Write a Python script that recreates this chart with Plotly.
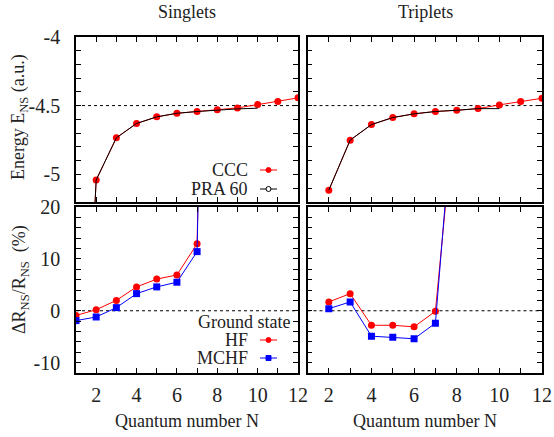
import plotly.graph_objects as go

# ---------------- data ----------------
N_sing_ccc = [1, 2, 3, 4, 5, 6, 7, 8, 9, 10, 11, 12]
E_sing_ccc = [-8.0, -5.04, -4.734, -4.630, -4.582, -4.556, -4.543, -4.531, -4.517, -4.493, -4.471, -4.444]
N_sing_pra = [1, 2, 3, 4, 5, 6, 7, 8, 9, 10]
E_sing_pra = [-8.0, -5.04, -4.734, -4.630, -4.582, -4.556, -4.543, -4.531, -4.524, -4.519]

N_trip_ccc = [2, 3, 4, 5, 6, 7, 8, 9, 10, 11, 12]
E_trip_ccc = [-5.114, -4.751, -4.638, -4.587, -4.560, -4.543, -4.534, -4.522, -4.495, -4.471, -4.447]
N_trip_pra = [2, 3, 4, 5, 6, 7, 8, 9, 10]
E_trip_pra = [-5.114, -4.751, -4.638, -4.587, -4.560, -4.543, -4.534, -4.522, -4.522]

N_sing_dr = [1, 2, 3, 4, 5, 6, 7, 8]
HF_sing = [-0.9, 0.2, 2.0, 4.6, 6.1, 6.9, 12.9, 210]
MCHF_sing = [-1.9, -1.2, 0.6, 3.3, 4.6, 5.5, 11.4, 200]

N_trip_dr = [2, 3, 4, 5, 6, 7, 8]
HF_trip = [1.7, 3.3, -2.8, -2.8, -3.1, -0.1, 43]
MCHF_trip = [0.4, 1.7, -4.9, -5.1, -5.4, -2.4, 48]

E_threshold = -4.5
DR_zero = 0.0

E_ticks = [-5, -4.5, -4]
E_ticktext = ["-5", "-4.5", "-4"]
DR_ticks = [-10, 0, 10, 20]
DR_ticktext = ["-10", "0", "10", "20"]

W, H = 554, 437
RED = "#ff0000"
BLUE = "#0000ff"
FONT = "Liberation Serif"
TXT = "#222222"

def px(x):
    return x / W

def py(y):
    return 1 - y / H

fig = go.Figure()

# top-left singlets energies
fig.add_trace(go.Scatter(x=N_sing_ccc, y=E_sing_ccc, mode="lines+markers",
                         line=dict(color=RED, width=1), marker=dict(color=RED, size=7, symbol="circle"),
                         xaxis="x", yaxis="y", showlegend=False))
fig.add_trace(go.Scatter(x=N_sing_pra, y=E_sing_pra, mode="lines+markers",
                         line=dict(color="black", width=1),
                         marker=dict(color="rgba(0,0,0,0)", size=7, symbol="circle-open", line=dict(color="black", width=1)),
                         xaxis="x", yaxis="y", showlegend=False))
# top-right triplets energies
fig.add_trace(go.Scatter(x=N_trip_ccc, y=E_trip_ccc, mode="lines+markers",
                         line=dict(color=RED, width=1), marker=dict(color=RED, size=7, symbol="circle"),
                         xaxis="x2", yaxis="y2", showlegend=False))
fig.add_trace(go.Scatter(x=N_trip_pra, y=E_trip_pra, mode="lines+markers",
                         line=dict(color="black", width=1),
                         marker=dict(color="rgba(0,0,0,0)", size=7, symbol="circle-open", line=dict(color="black", width=1)),
                         xaxis="x2", yaxis="y2", showlegend=False))
# bottom-left singlets dR
fig.add_trace(go.Scatter(x=N_sing_dr, y=HF_sing, mode="lines+markers",
                         line=dict(color=RED, width=1), marker=dict(color=RED, size=7, symbol="circle"),
                         xaxis="x3", yaxis="y3", showlegend=False, cliponaxis=True))
fig.add_trace(go.Scatter(x=N_sing_dr, y=MCHF_sing, mode="lines+markers",
                         line=dict(color=BLUE, width=1), marker=dict(color=BLUE, size=7, symbol="square"),
                         xaxis="x3", yaxis="y3", showlegend=False, cliponaxis=True))
# bottom-right triplets dR
fig.add_trace(go.Scatter(x=N_trip_dr, y=HF_trip, mode="lines+markers",
                         line=dict(color=RED, width=1), marker=dict(color=RED, size=7, symbol="circle"),
                         xaxis="x4", yaxis="y4", showlegend=False, cliponaxis=True))
fig.add_trace(go.Scatter(x=N_trip_dr, y=MCHF_trip, mode="lines+markers",
                         line=dict(color=BLUE, width=1), marker=dict(color=BLUE, size=7, symbol="square"),
                         xaxis="x4", yaxis="y4", showlegend=False, cliponaxis=True))

left_dom = [px(76), px(298)]
right_dom = [px(307.5), px(542)]
top_dom = [py(202), py(36.7)]
bot_dom = [py(373), py(207)]

tickfont = dict(family=FONT, size=20, color=TXT)

def xax(domain, anchor, labels):
    return dict(domain=domain, anchor=anchor, range=[1, 12], tick0=0, dtick=2,
                ticks="inside", ticklen=5, tickwidth=1, tickcolor="black",
                minor=dict(dtick=1, tick0=0, ticks="inside", ticklen=5, tickwidth=1, tickcolor="black", showgrid=False),
                showline=True, linewidth=1.6, linecolor="black", mirror="ticks",
                showgrid=False, zeroline=False, showticklabels=labels, tickfont=tickfont,
                ticklabelstandoff=3, automargin=False)

def yax(domain, anchor, rng, tv, tt, minor_dt, labels):
    return dict(domain=domain, anchor=anchor, range=rng, tickvals=tv, ticktext=tt,
                ticks="inside", ticklen=5, tickwidth=1, tickcolor="black",
                minor=dict(dtick=minor_dt, tick0=0, ticks="inside", ticklen=5, tickwidth=1, tickcolor="black", showgrid=False),
                showline=True, linewidth=1.6, linecolor="black", mirror="ticks",
                showgrid=False, zeroline=False, showticklabels=labels, tickfont=tickfont,
                ticklabelstandoff=10, automargin=False)

fig.update_layout(
    width=W, height=H,
    margin=dict(l=0, r=0, t=0, b=0),
    font=dict(family=FONT, size=18, color=TXT),
    paper_bgcolor="white", plot_bgcolor="white",
    showlegend=False,
    xaxis=xax(left_dom, "y", False),
    yaxis=yax(top_dom, "x", [-5.2, -4], E_ticks, E_ticktext, 0.1, True),
    xaxis2=xax(right_dom, "y2", False),
    yaxis2=yax(top_dom, "x2", [-5.2, -4], E_ticks, E_ticktext, 0.1, False),
    xaxis3=xax(left_dom, "y3", True),
    yaxis3=yax(bot_dom, "x3", [-12, 20], DR_ticks, DR_ticktext, 2, True),
    xaxis4=xax(right_dom, "y4", True),
    yaxis4=yax(bot_dom, "x4", [-12, 20], DR_ticks, DR_ticktext, 2, False),
)

# reference dotted lines
for xr, yr, val in [("x", "y", E_threshold), ("x2", "y2", E_threshold), ("x3", "y3", DR_zero), ("x4", "y4", DR_zero)]:
    fig.add_shape(type="line", xref=xr + " domain", yref=yr, x0=0, x1=1, y0=val, y1=val,
                  line=dict(color="black", width=1, dash="dot"), layer="below")

font = dict(family=FONT, size=18, color=TXT)
ann = []
ann.append(dict(text="Singlets", x=px(187), y=py(12), xref="paper", yref="paper", showarrow=False, font=font, xanchor="center", yanchor="middle"))
ann.append(dict(text="Triplets", x=px(425), y=py(12), xref="paper", yref="paper", showarrow=False, font=font, xanchor="center", yanchor="middle"))
ann.append(dict(text="Quantum number N", x=px(187), y=py(421), xref="paper", yref="paper", showarrow=False, font=font, xanchor="center", yanchor="middle"))
ann.append(dict(text="Quantum number N", x=px(425), y=py(421), xref="paper", yref="paper", showarrow=False, font=font, xanchor="center", yanchor="middle"))
ann.append(dict(text="Energy E<sub>NS</sub> (a.u.)", x=px(19), y=py(117), xref="paper", yref="paper", showarrow=False, font=font,
                textangle=-90, xanchor="center", yanchor="middle"))
ann.append(dict(text="ΔR<sub>NS</sub>/R<sub>NS</sub>  (%)", x=px(20), y=py(280), xref="paper", yref="paper", showarrow=False, font=font,
                textangle=-90, xanchor="center", yanchor="middle"))

# legend texts
legend_items = [
    ("CCC", 170, RED, "circle", True),
    ("PRA 60", 189, "black", "circle", False),
    ("HF", 340, RED, "circle", True),
    ("MCHF", 358, BLUE, "square", True),
]
for label, yy, col, sym, filled in legend_items:
    ann.append(dict(text=label, x=px(250), y=py(yy), xref="paper", yref="paper", showarrow=False, font=font,
                    xanchor="right", yanchor="middle"))
    fig.add_shape(type="line", xref="paper", yref="paper", x0=px(260), x1=px(277), y0=py(yy), y1=py(yy),
                  line=dict(color=col, width=1))
    fig.add_shape(type="rect" if sym == "square" else "circle", xref="paper", yref="paper",
                  xsizemode="pixel", ysizemode="pixel", xanchor=px(268.5), yanchor=py(yy),
                  x0=-2.5, x1=2.5, y0=-2.5, y1=2.5,
                  line=dict(color=col, width=1), fillcolor=col if filled else "white")
ann.append(dict(text="Ground state", x=px(292), y=py(321.5), xref="paper", yref="paper", showarrow=False, font=font,
                xanchor="right", yanchor="middle"))

fig.update_layout(annotations=ann)
fig.write_html("out.html")
